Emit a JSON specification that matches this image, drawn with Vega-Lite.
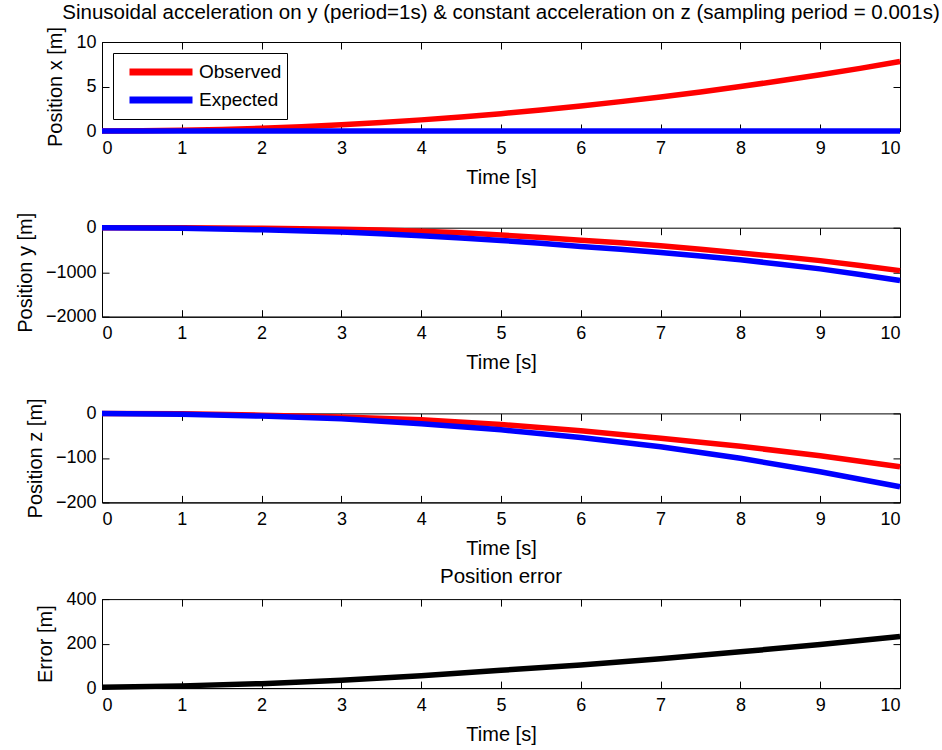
{
  "$schema": "https://vega.github.io/schema/vega-lite/v6.json",
  "background": "white",
  "padding": {"left": 14, "top": 2, "right": 5, "bottom": 5},
  "config": {
    "font": "Liberation Sans",
    "view": {"stroke": "#000000", "strokeWidth": 1},
    "axis": {
      "domainColor": "#000000", "tickColor": "#000000", "labelColor": "#000000", "titleColor": "#000000",
      "labelFont": "Liberation Sans", "titleFont": "Liberation Sans",
      "labelFontSize": 18, "titleFontSize": 20, "titleFontWeight": "normal",
      "tickSize": -7, "grid": false, "titlePadding": 10
    },
    "axisX": {"labelPadding": 15},
    "axisY": {"labelPadding": 13},
    "title": {"font": "Liberation Sans", "fontSize": 20.5, "fontWeight": "normal", "color": "#000000", "offset": 3},
    "legend": {"labelFont": "Liberation Sans", "labelFontSize": 19, "labelColor": "#000000"}
  },
  "datasets": {
    "px": [
      {"t": 0, "v": 0, "s": "Observed"}, {"t": 0.5, "v": 0.02, "s": "Observed"}, {"t": 1, "v": 0.08, "s": "Observed"},
      {"t": 1.5, "v": 0.18, "s": "Observed"}, {"t": 2, "v": 0.31, "s": "Observed"}, {"t": 2.5, "v": 0.49, "s": "Observed"},
      {"t": 3, "v": 0.7, "s": "Observed"}, {"t": 3.5, "v": 0.96, "s": "Observed"}, {"t": 4, "v": 1.25, "s": "Observed"},
      {"t": 4.5, "v": 1.58, "s": "Observed"}, {"t": 5, "v": 1.95, "s": "Observed"}, {"t": 5.5, "v": 2.36, "s": "Observed"},
      {"t": 6, "v": 2.81, "s": "Observed"}, {"t": 6.5, "v": 3.3, "s": "Observed"}, {"t": 7, "v": 3.82, "s": "Observed"},
      {"t": 7.5, "v": 4.39, "s": "Observed"}, {"t": 8, "v": 5.0, "s": "Observed"}, {"t": 8.5, "v": 5.64, "s": "Observed"},
      {"t": 9, "v": 6.32, "s": "Observed"}, {"t": 9.5, "v": 7.04, "s": "Observed"}, {"t": 10, "v": 7.8, "s": "Observed"},
      {"t": 0, "v": 0, "s": "Expected"}, {"t": 1, "v": 0, "s": "Expected"}, {"t": 2, "v": 0, "s": "Expected"},
      {"t": 3, "v": 0, "s": "Expected"}, {"t": 4, "v": 0, "s": "Expected"}, {"t": 5, "v": 0, "s": "Expected"},
      {"t": 6, "v": 0, "s": "Expected"}, {"t": 7, "v": 0, "s": "Expected"}, {"t": 8, "v": 0, "s": "Expected"},
      {"t": 9, "v": 0, "s": "Expected"}, {"t": 10, "v": 0, "s": "Expected"}
    ],
    "py": [
      {"t": 0, "v": 0, "s": "Observed"}, {"t": 1, "v": -3, "s": "Observed"}, {"t": 2, "v": -13, "s": "Observed"},
      {"t": 3, "v": -35, "s": "Observed"}, {"t": 3.5, "v": -52, "s": "Observed"}, {"t": 4, "v": -78, "s": "Observed"},
      {"t": 4.5, "v": -115, "s": "Observed"}, {"t": 5, "v": -165, "s": "Observed"}, {"t": 5.5, "v": -218, "s": "Observed"},
      {"t": 6, "v": -280, "s": "Observed"}, {"t": 6.5, "v": -340, "s": "Observed"}, {"t": 7, "v": -405, "s": "Observed"},
      {"t": 7.5, "v": -485, "s": "Observed"}, {"t": 8, "v": -570, "s": "Observed"}, {"t": 8.5, "v": -650, "s": "Observed"},
      {"t": 9, "v": -740, "s": "Observed"}, {"t": 9.5, "v": -850, "s": "Observed"}, {"t": 10, "v": -965, "s": "Observed"},
      {"t": 0, "v": 0, "s": "Expected"}, {"t": 1, "v": -12, "s": "Expected"}, {"t": 2, "v": -48, "s": "Expected"},
      {"t": 3, "v": -95, "s": "Expected"}, {"t": 3.5, "v": -135, "s": "Expected"}, {"t": 4, "v": -180, "s": "Expected"},
      {"t": 4.5, "v": -230, "s": "Expected"}, {"t": 5, "v": -285, "s": "Expected"}, {"t": 5.5, "v": -350, "s": "Expected"},
      {"t": 6, "v": -420, "s": "Expected"}, {"t": 6.5, "v": -485, "s": "Expected"}, {"t": 7, "v": -555, "s": "Expected"},
      {"t": 7.5, "v": -635, "s": "Expected"}, {"t": 8, "v": -720, "s": "Expected"}, {"t": 8.5, "v": -820, "s": "Expected"},
      {"t": 9, "v": -925, "s": "Expected"}, {"t": 9.5, "v": -1050, "s": "Expected"}, {"t": 10, "v": -1185, "s": "Expected"}
    ],
    "pz": [
      {"t": 0, "v": 0, "s": "Observed"}, {"t": 1, "v": -1, "s": "Observed"}, {"t": 2, "v": -4, "s": "Observed"},
      {"t": 3, "v": -8, "s": "Observed"}, {"t": 4, "v": -14, "s": "Observed"}, {"t": 5, "v": -25, "s": "Observed"},
      {"t": 6, "v": -39, "s": "Observed"}, {"t": 7, "v": -56, "s": "Observed"}, {"t": 8, "v": -74, "s": "Observed"},
      {"t": 9, "v": -95, "s": "Observed"}, {"t": 10, "v": -120, "s": "Observed"},
      {"t": 0, "v": 0, "s": "Expected"}, {"t": 1, "v": -2, "s": "Expected"}, {"t": 2, "v": -6, "s": "Expected"},
      {"t": 3, "v": -12, "s": "Expected"}, {"t": 4, "v": -23, "s": "Expected"}, {"t": 5, "v": -37, "s": "Expected"},
      {"t": 6, "v": -54, "s": "Expected"}, {"t": 7, "v": -75, "s": "Expected"}, {"t": 8, "v": -101, "s": "Expected"},
      {"t": 9, "v": -131, "s": "Expected"}, {"t": 10, "v": -165, "s": "Expected"}
    ],
    "pe": [
      {"t": 0, "v": 4}, {"t": 1, "v": 10}, {"t": 2, "v": 20}, {"t": 3, "v": 35}, {"t": 4, "v": 56},
      {"t": 5, "v": 80}, {"t": 6, "v": 104}, {"t": 7, "v": 132}, {"t": 8, "v": 163}, {"t": 9, "v": 196}, {"t": 10, "v": 232}
    ]
  },
  "bounds": "flush",
  "spacing": 96.7,
  "resolve": {"scale": {"color": "independent"}, "legend": {"color": "independent"}},
  "vconcat": [
    {
      "width": 798, "height": 89,
      "title": {"text": "Sinusoidal acceleration on y (period=1s) & constant acceleration on z (sampling period = 0.001s)"},
      "data": {"name": "px"},
      "layer": [
        {
          "mark": {"type": "line", "strokeWidth": 5.5},
          "encoding": {
            "x": {"field": "t", "type": "quantitative", "scale": {"domain": [0, 10], "nice": false}, "axis": {"values": [0,1,2,3,4,5,6,7,8,9,10], "title": "Time [s]"}},
            "y": {"field": "v", "type": "quantitative", "scale": {"domain": [0, 10], "nice": false}, "axis": {"values": [0, 5, 10], "title": "Position x [m]"}},
            "color": {"field": "s", "type": "nominal", "sort": null, "scale": {"domain": ["Observed", "Expected"], "range": ["#ff0000", "#0000ff"]},
              "legend": {"title": null, "orient": "top-left", "offset": 11, "strokeColor": "#000000", "fillColor": "#ffffff", "padding": 5,
                "symbolType": "M-3,0H3", "symbolSize": 441, "symbolStrokeWidth": 7, "symbolOffset": 29, "labelOffset": 24, "rowPadding": 0}}
          }
        },
        {
          "mark": {"type": "line", "opacity": 0},
          "encoding": {
            "x": {"field": "t", "type": "quantitative", "axis": {"orient": "top", "values": [0,1,2,3,4,5,6,7,8,9,10], "labels": false, "title": null, "domain": false}},
            "y": {"field": "v", "type": "quantitative", "axis": {"orient": "right", "values": [0, 5, 10], "labels": false, "title": null, "domain": false}}
          }
        }
      ],
      "resolve": {"axis": {"x": "independent", "y": "independent"}}
    },
    {
      "width": 798, "height": 89,
      "data": {"name": "py"},
      "layer": [
        {
          "mark": {"type": "line", "strokeWidth": 5.5},
          "encoding": {
            "x": {"field": "t", "type": "quantitative", "scale": {"domain": [0, 10], "nice": false}, "axis": {"values": [0,1,2,3,4,5,6,7,8,9,10], "title": "Time [s]"}},
            "y": {"field": "v", "type": "quantitative", "scale": {"domain": [-2000, 0], "nice": false}, "axis": {"values": [-2000, -1000, 0], "format": "d", "title": "Position y [m]"}},
            "color": {"field": "s", "type": "nominal", "sort": null, "scale": {"domain": ["Observed", "Expected"], "range": ["#ff0000", "#0000ff"]}, "legend": null}
          }
        },
        {
          "mark": {"type": "line", "opacity": 0},
          "encoding": {
            "x": {"field": "t", "type": "quantitative", "axis": {"orient": "top", "values": [0,1,2,3,4,5,6,7,8,9,10], "labels": false, "title": null, "domain": false}},
            "y": {"field": "v", "type": "quantitative", "axis": {"orient": "right", "values": [-2000, -1000, 0], "labels": false, "title": null, "domain": false}}
          }
        }
      ],
      "resolve": {"axis": {"x": "independent", "y": "independent"}}
    },
    {
      "width": 798, "height": 89,
      "data": {"name": "pz"},
      "layer": [
        {
          "mark": {"type": "line", "strokeWidth": 5.5},
          "encoding": {
            "x": {"field": "t", "type": "quantitative", "scale": {"domain": [0, 10], "nice": false}, "axis": {"values": [0,1,2,3,4,5,6,7,8,9,10], "title": "Time [s]"}},
            "y": {"field": "v", "type": "quantitative", "scale": {"domain": [-200, 0], "nice": false}, "axis": {"values": [-200, -100, 0], "title": "Position z [m]"}},
            "color": {"field": "s", "type": "nominal", "sort": null, "scale": {"domain": ["Observed", "Expected"], "range": ["#ff0000", "#0000ff"]}, "legend": null}
          }
        },
        {
          "mark": {"type": "line", "opacity": 0},
          "encoding": {
            "x": {"field": "t", "type": "quantitative", "axis": {"orient": "top", "values": [0,1,2,3,4,5,6,7,8,9,10], "labels": false, "title": null, "domain": false}},
            "y": {"field": "v", "type": "quantitative", "axis": {"orient": "right", "values": [-200, -100, 0], "labels": false, "title": null, "domain": false}}
          }
        }
      ],
      "resolve": {"axis": {"x": "independent", "y": "independent"}}
    },
    {
      "width": 798, "height": 89,
      "title": {"text": "Position error"},
      "data": {"name": "pe"},
      "layer": [
        {
          "mark": {"type": "line", "strokeWidth": 5.5, "color": "#000000"},
          "encoding": {
            "x": {"field": "t", "type": "quantitative", "scale": {"domain": [0, 10], "nice": false}, "axis": {"values": [0,1,2,3,4,5,6,7,8,9,10], "title": "Time [s]"}},
            "y": {"field": "v", "type": "quantitative", "scale": {"domain": [0, 400], "nice": false}, "axis": {"values": [0, 200, 400], "title": "Error [m]"}}
          }
        },
        {
          "mark": {"type": "line", "opacity": 0},
          "encoding": {
            "x": {"field": "t", "type": "quantitative", "axis": {"orient": "top", "values": [0,1,2,3,4,5,6,7,8,9,10], "labels": false, "title": null, "domain": false}},
            "y": {"field": "v", "type": "quantitative", "axis": {"orient": "right", "values": [0, 200, 400], "labels": false, "title": null, "domain": false}}
          }
        }
      ],
      "resolve": {"axis": {"x": "independent", "y": "independent"}}
    }
  ]
}
